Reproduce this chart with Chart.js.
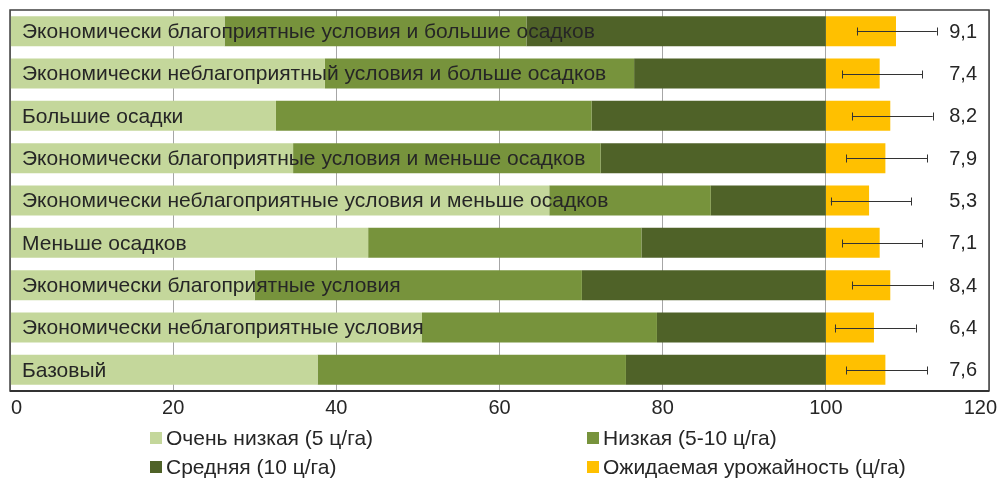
<!DOCTYPE html>
<html>
<head>
<meta charset="utf-8">
<script src="https://cdn.jsdelivr.net/npm/chart.js@4/dist/chart.umd.min.js"></script>
<style>
html,body{margin:0;padding:0;background:#fff;}
#wrap{width:1001px;height:478px;}
</style>
</head>
<body>
<div id="wrap"><canvas id="c" width="1001" height="478"></canvas></div>
<script>
const categories = [
  'Экономически благоприятные условия и большие осадков',
  'Экономически неблагоприятный условия и больше осадков',
  'Большие осадки',
  'Экономически благоприятные условия и меньше осадков',
  'Экономически неблагоприятные условия и меньше осадков',
  'Меньше осадков',
  'Экономически благоприятные условия',
  'Экономически неблагоприятные условия',
  'Базовый'
];
const seriesNames = ['Очень низкая (5 ц/га)', 'Низкая (5-10 ц/га)', 'Средняя (10 ц/га)', 'Ожидаемая урожайность (ц/га)'];
const veryLow = [26.3, 38.6, 32.6, 34.7, 66.1, 43.9, 30.0, 50.5, 37.7];
const low     = [37.0, 37.9, 38.7, 37.7, 19.8, 33.5, 40.1, 28.8, 37.8];
const medium  = [36.7, 23.5, 28.7, 27.6, 14.1, 22.6, 29.9, 20.7, 24.5];
const expectedYield = [8.6, 6.6, 7.9, 7.3, 5.3, 6.6, 7.9, 5.9, 7.3];
const yieldLabels = ['9,1', '7,4', '8,2', '7,9', '5,3', '7,1', '8,4', '6,4', '7,6'];
const errLow  = [3.8, 2.0, 3.2, 2.5, 0.6, 2.0, 3.2, 1.1, 2.5];
const errHigh = [13.6, 11.8, 13.1, 12.4, 10.5, 11.8, 13.1, 11.0, 12.4];
const yieldBase = 100;
const xTicks = [0, 20, 40, 60, 80, 100, 120];

const colors = ['#c4d79b', '#77933c', '#4f6228', '#ffc000'];
const FONT = '"Liberation Sans", Arial, sans-serif';
const TEXT = '#262626';

const overlay = {
  id: 'overlay',
  afterDatasetsDraw(chart) {
    const ctx = chart.ctx, xs = chart.scales.x, ys = chart.scales.y, ca = chart.chartArea;
    ctx.save();
    // error bars
    ctx.strokeStyle = '#333';
    ctx.lineWidth = 1;
    categories.forEach((c, i) => {
      const y = Math.round(ys.getPixelForValue(i)) + 0.5;
      const x1 = xs.getPixelForValue(yieldBase + errLow[i]);
      const x2 = xs.getPixelForValue(yieldBase + errHigh[i]);
      ctx.beginPath();
      ctx.moveTo(x1, y); ctx.lineTo(x2, y);
      ctx.moveTo(Math.round(x1) + 0.5, y - 4); ctx.lineTo(Math.round(x1) + 0.5, y + 4);
      ctx.moveTo(Math.round(x2) + 0.5, y - 4); ctx.lineTo(Math.round(x2) + 0.5, y + 4);
      ctx.stroke();
    });
    // category labels
    ctx.fillStyle = TEXT;
    ctx.font = '21px ' + FONT;
    ctx.textBaseline = 'middle';
    ctx.textAlign = 'left';
    categories.forEach((c, i) => {
      ctx.fillText(c, ca.left + 12, ys.getPixelForValue(i) + 1);
    });
    // value labels
    ctx.font = '20px ' + FONT;
    ctx.textAlign = 'right';
    yieldLabels.forEach((t, i) => {
      ctx.fillText(t, ca.right - 12, ys.getPixelForValue(i) + 1);
    });
    ctx.restore();
  },
  afterDraw(chart) {
    const ctx = chart.ctx, ca = chart.chartArea, xs = chart.scales.x;
    ctx.save();
    ctx.strokeStyle = '#404040';
    ctx.lineWidth = 1.5;
    ctx.strokeRect(ca.left, ca.top, ca.right - ca.left, ca.bottom - ca.top);
    ctx.lineWidth = 2;
    ctx.strokeStyle = '#333';
    ctx.beginPath(); ctx.moveTo(ca.left, ca.bottom); ctx.lineTo(ca.right, ca.bottom); ctx.stroke();
    // x tick labels, kept inside the canvas
    ctx.font = '20px ' + FONT;
    ctx.fillStyle = TEXT;
    ctx.textBaseline = 'middle';
    ctx.textAlign = 'center';
    xTicks.forEach(v => {
      const t = String(v);
      const hw = ctx.measureText(t).width / 2;
      let x = xs.getPixelForValue(v);
      x = Math.max(x, ca.left + hw + 1);
      x = Math.min(x, chart.width - hw - 4);
      ctx.fillText(t, x, ca.bottom + 17);
    });
    // legend
    const cols = [150, 587], rows = [438, 467];
    ctx.font = '21px ' + FONT;
    ctx.textAlign = 'left';
    chart.data.datasets.forEach((ds, i) => {
      const x = cols[i % 2], y = rows[Math.floor(i / 2)];
      ctx.fillStyle = ds.backgroundColor;
      ctx.fillRect(x, y - 6, 12, 12);
      ctx.fillStyle = TEXT;
      ctx.fillText(ds.label, x + 16, y + 1);
    });
    ctx.restore();
  }
};

new Chart(document.getElementById('c'), {
  type: 'bar',
  data: {
    labels: categories,
    datasets: [
      { label: seriesNames[0], data: veryLow, backgroundColor: colors[0] },
      { label: seriesNames[1], data: low, backgroundColor: colors[1] },
      { label: seriesNames[2], data: medium, backgroundColor: colors[2] },
      { label: seriesNames[3], data: expectedYield, backgroundColor: colors[3] }
    ]
  },
  options: {
    indexAxis: 'y',
    responsive: false,
    animation: false,
    devicePixelRatio: 1,
    layout: { padding: { left: 10, right: 12, top: 10, bottom: 0 } },
    datasets: { bar: { barPercentage: 0.71, categoryPercentage: 1, borderWidth: 0 } },
    plugins: { legend: { display: false }, tooltip: { enabled: false } },
    scales: {
      x: {
        stacked: true, min: 0, max: 120,
        afterBuildTicks(s) { s.ticks = xTicks.map(v => ({ value: v })); },
        afterFit(s) { s.height = 87; },
        grid: { color: '#a6a6a6', lineWidth: 1, drawTicks: false },
        border: { display: false },
        ticks: { display: false }
      },
      y: {
        stacked: true, display: false, offset: true,
        grid: { display: false }
      }
    }
  },
  plugins: [overlay]
});
</script>
</body>
</html>
